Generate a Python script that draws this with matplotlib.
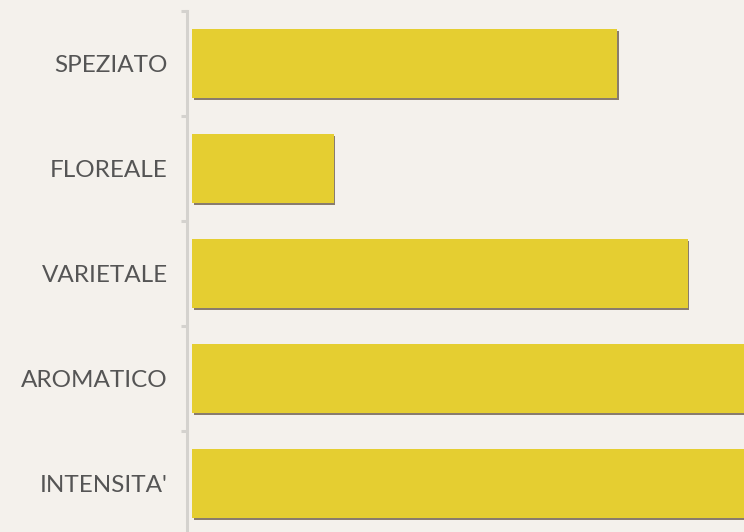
import matplotlib.pyplot as plt
import matplotlib.patheffects as pe
import numpy as np

# chart values
categories = ['SPEZIATO', 'FLOREALE', 'VARIETALE', 'AROMATICO', "INTENSITA'"]
values = [6, 2, 7, 8, 8]

bg = '#f4f1ec'
bar_color = '#e5ce31'
shadow_color = '#7e6f60'
text_color = '#555555'
axis_color = '#d4d2ce'

W, H = 744, 532
fig = plt.figure(figsize=(W / 100, H / 100), dpi=100, facecolor=bg)
# plot area: left edge at 192 px, runs past the right edge of the image
ax = fig.add_axes([192 / W, (H - 536) / H, 552 / W, 525 / H])
ax.set_facecolor(bg)

y = np.arange(len(categories))
bars = ax.barh(y, values, height=0.66, color=bar_color, linewidth=0)
for b in bars:
    b.set_path_effects([
        pe.SimplePatchShadow(offset=(1.3, -1.3), shadow_rgbFace=shadow_color, alpha=0.9),
        pe.Normal(),
    ])

ax.set_xlim(0, 552 / 70.8)
ax.set_ylim(len(categories) - 0.5, -0.5)

for s in ['top', 'right', 'bottom']:
    ax.spines[s].set_visible(False)
ax.spines['left'].set_position(('outward', 3.6))
ax.spines['left'].set_color(axis_color)
ax.spines['left'].set_linewidth(2.2)

ax.set_xticks([])
ax.set_yticks(y)
ax.set_yticklabels(categories, family=['Lato', 'DejaVu Sans'], fontsize=17.5, color=text_color)
ax.tick_params(axis='y', which='major', length=0, pad=14)
ax.set_yticks(np.arange(-0.5, len(categories), 1), minor=True)
ax.tick_params(axis='y', which='minor', length=4, width=2.2, color=axis_color)

fig.savefig('out.png', dpi=100, facecolor=bg)
